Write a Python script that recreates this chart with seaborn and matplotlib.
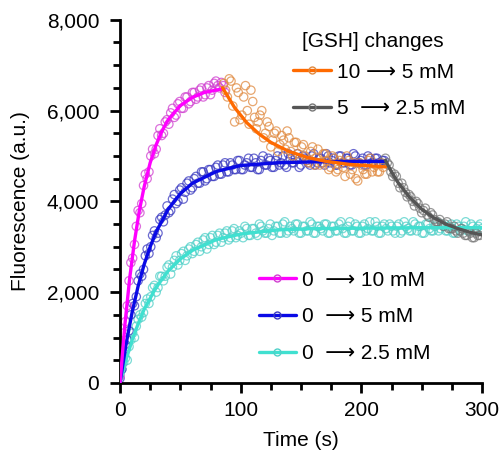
import matplotlib
matplotlib.use("Agg")
import matplotlib.pyplot as plt
from matplotlib.lines import Line2D
from matplotlib.ticker import MultipleLocator, FuncFormatter
import numpy as np
import seaborn as sns

sns.set_theme(style="white")
plt.rcParams["font.family"] = ["Liberation Sans", "DejaVu Sans"]
plt.rcParams.update({"text.color": "black", "axes.labelcolor": "black",
                     "xtick.color": "black", "ytick.color": "black"})

# ── data ──────────────────────────────────────────────────────────────────────
# raw measurements: two interleaved sets, each sampled every 3 s
mag_t = np.arange(0, 88, 3)
mag_y = [150, 1100, 1700, 2650, 3050, 3800, 3950, 4600, 4650, 5150,
         5150, 5600, 5500, 5800, 5950, 5850, 6150, 6050, 6300, 6150,
         6400, 6250, 6450, 6300, 6500, 6350, 6600, 6550, 6620, 6400]
mag_t2 = np.arange(1.5, 86, 3)
mag_y2 = [400, 1350, 2250, 2750, 3450, 3750, 4350, 4500, 5000, 5050,
          5450, 5450, 5750, 5700, 6050, 5900, 6200, 6050, 6300, 6200,
          6400, 6300, 6500, 6350, 6550, 6450, 6650, 6500, 6550]

blue_t = np.arange(0, 220, 3)
blue_y = [100, 600, 950, 1500, 1700, 2250, 2350, 2800, 2850, 3250,
          3200, 3600, 3550, 3900, 3800, 4150, 4000, 4300, 4200, 4450,
          4300, 4550, 4400, 4650, 4500, 4700, 4550, 4800, 4600, 4850,
          4650, 4800, 4700, 4900, 4700, 4850, 4750, 4950, 4700, 4900,
          4800, 4950, 4750, 4900, 4800, 5000, 4750, 4950, 4850, 5050,
          4800, 4950, 4850, 5000, 4800, 4950, 4850, 5050, 4850, 4950,
          4800, 5000, 4850, 4950, 4800, 5000, 4850, 4950, 4800, 4950,
          4850, 4950, 4850, 4900]
blue_t2 = np.arange(1.5, 218, 3)
blue_y2 = [300, 850, 1150, 1750, 1900, 2400, 2500, 2950, 3000, 3350,
           3300, 3650, 3700, 3750, 4050, 3950, 4250, 4050, 4400, 4250,
           4500, 4400, 4650, 4450, 4700, 4550, 4750, 4600, 4800, 4650,
           4850, 4700, 4900, 4700, 4800, 4950, 4750, 4850, 4700, 5000,
           4800, 4900, 4750, 5000, 4850, 4800, 5050, 4850, 4950, 4750,
           5000, 4900, 4800, 5050, 4850, 4950, 4800, 5000, 4900, 4800,
           5000, 4850, 4950, 4800, 5050, 4850, 4900, 4800, 5000, 4850,
           4950, 4850, 4900]

cyan_t = np.arange(0, 301, 3)
cyan_y = [200, 450, 500, 950, 1000, 1400, 1450, 1750, 1750, 2100,
          2000, 2350, 2250, 2550, 2400, 2700, 2600, 2850, 2700, 2950,
          2850, 3050, 2900, 3150, 2950, 3200, 3050, 3250, 3100, 3300,
          3150, 3350, 3200, 3350, 3200, 3400, 3250, 3400, 3250, 3450,
          3300, 3400, 3250, 3450, 3300, 3500, 3300, 3450, 3350, 3500,
          3300, 3450, 3350, 3500, 3300, 3450, 3350, 3500, 3300, 3450,
          3350, 3550, 3300, 3450, 3350, 3500, 3300, 3450, 3350, 3550,
          3350, 3450, 3300, 3500, 3350, 3450, 3300, 3500, 3350, 3450,
          3350, 3550, 3350, 3450, 3300, 3500, 3350, 3450, 3350, 3500,
          3350, 3450, 3300, 3500, 3350, 3450, 3350, 3500, 3350, 3450,
          3400]
cyan_t2 = np.arange(1.5, 300, 3)
cyan_y2 = [300, 550, 800, 1100, 1250, 1500, 1550, 1850, 1900, 2150,
           2100, 2350, 2350, 2600, 2550, 2800, 2700, 2900, 2800, 3000,
           2900, 3100, 3000, 3200, 3050, 3250, 3100, 3300, 3200, 3350,
           3200, 3400, 3250, 3300, 3450, 3250, 3400, 3300, 3500, 3350,
           3300, 3500, 3350, 3450, 3300, 3550, 3350, 3400, 3500, 3300,
           3450, 3350, 3550, 3300, 3450, 3400, 3500, 3300, 3450, 3350,
           3500, 3400, 3300, 3550, 3350, 3450, 3300, 3500, 3400, 3350,
           3550, 3300, 3450, 3400, 3500, 3350, 3450, 3300, 3550, 3400,
           3350, 3500, 3450, 3300, 3500, 3400, 3350, 3550, 3400, 3450,
           3350, 3500, 3300, 3450, 3400, 3550, 3350, 3450, 3400, 3500]

orange_t = np.arange(86, 219, 3)
orange_y = [6600, 6300, 6650, 5750, 6400, 5900, 6550, 5700, 6200, 5600,
            5900, 5400, 5750, 5200, 5500, 5100, 5450, 5150, 5400, 5000,
            5300, 4950, 5250, 4900, 5100, 4800, 5150, 4850, 5050, 4700,
            5000, 4650, 4900, 4750, 5000, 4600, 4850, 4450, 4800, 4600,
            4900, 4650, 4800, 4650, 4750]
orange_t2 = np.arange(87.5, 217, 3)
orange_y2 = [6450, 6700, 6100, 6500, 5800, 6300, 6000, 6450, 5850, 5750,
             6000, 5500, 5650, 5350, 5550, 5250, 5350, 5550, 5100, 5300,
             5050, 5200, 5000, 4850, 5200, 4950, 4800, 5050, 4900, 4750,
             4950, 4700, 4850, 4550, 4900, 4700, 4500, 4850, 4700, 4600,
             4950, 4750, 4650, 4850]

gray_t = np.arange(220, 300, 3)
gray_y = [4950, 4800, 4550, 4550, 4300, 4300, 4100, 4100, 3900, 3950,
          3750, 3850, 3650, 3700, 3550, 3600, 3450, 3550, 3400, 3450,
          3300, 3400, 3250, 3350, 3200, 3300, 3250]
gray_t2 = np.arange(221.5, 299, 3)
gray_y2 = [4850, 4650, 4600, 4400, 4400, 4200, 4150, 4000, 4000, 3850,
           3800, 3700, 3750, 3600, 3550, 3500, 3500, 3400, 3400, 3350,
           3350, 3300, 3250, 3300, 3200, 3250]

# fitted curves
mag_fit_t = [0, 4, 8, 12, 16, 20, 25, 30, 35, 40, 50, 60, 70, 85]
mag_fit_y = [0, 1270, 2300, 3120, 3790, 4320, 4850, 5250, 5560, 5800,
             6110, 6290, 6400, 6480]

blue_fit_t = [0, 5, 10, 15, 20, 25, 30, 40, 50, 60, 80, 100, 130, 160, 190, 220]
blue_fit_y = [0, 850, 1550, 2130, 2610, 3000, 3330, 3830, 4170, 4400,
              4660, 4790, 4850, 4870, 4880, 4880]

cyan_fit_t = [0, 5, 10, 15, 20, 30, 40, 50, 60, 80, 100, 130, 160, 200, 250, 300]
cyan_fit_y = [0, 510, 940, 1300, 1620, 2110, 2470, 2730, 2920, 3160,
              3280, 3370, 3400, 3410, 3420, 3420]

orange_fit_t = [85, 95, 105, 115, 125, 140, 155, 170, 190, 220]
orange_fit_y = [6500, 6065, 5735, 5490, 5300, 5100, 4970, 4885, 4815, 4760]

gray_fit_t = [220, 225, 230, 240, 250, 260, 270, 280, 290, 300]
gray_fit_y = [4900, 4650, 4430, 4090, 3830, 3640, 3500, 3400, 3320, 3260]

# ── colours ───────────────────────────────────────────────────────────────────
C_MAG, P_MAG = "#FF00FF", "#D040D0"
C_BLUE, P_BLUE = "#0A0AE6", "#3A3AC0"
C_CYAN, P_CYAN = "#40E0D0", "#50D0C8"
C_ORA, P_ORA = "#FF6A00", "#E08A40"
C_GRAY, P_GRAY = "#555555", "#777777"

FS = 15

fig = plt.figure(figsize=(5, 4.5), dpi=100)
ax = fig.add_axes([0.24, 0.149, 0.724, 0.807])

series = [
    (cyan_t, cyan_y, cyan_t2, cyan_y2, P_CYAN),
    (blue_t, blue_y, blue_t2, blue_y2, P_BLUE),
    (mag_t, mag_y, mag_t2, mag_y2, P_MAG),
    (orange_t, orange_y, orange_t2, orange_y2, P_ORA),
    (gray_t, gray_y, gray_t2, gray_y2, P_GRAY),
]
for t, y, t2, y2, c in series:
    for tt, yy in [(t, y), (t2, y2)]:
        sns.scatterplot(x=tt, y=yy, ax=ax, marker="o", s=36, color=c,
                        facecolor="none", edgecolor=c, linewidth=0.9,
                        alpha=0.75, zorder=2)

fits = [
    (cyan_fit_t, cyan_fit_y, C_CYAN),
    (blue_fit_t, blue_fit_y, C_BLUE),
    (mag_fit_t, mag_fit_y, C_MAG),
    (orange_fit_t, orange_fit_y, C_ORA),
    (gray_fit_t, gray_fit_y, C_GRAY),
]
for t, y, c in fits:
    sns.lineplot(x=t, y=y, ax=ax, color=c, linewidth=2.4, zorder=3)

# ── axes styling ──────────────────────────────────────────────────────────────
ax.set_xlim(0, 300)
ax.set_ylim(0, 8000)
ax.xaxis.set_major_locator(MultipleLocator(100))
ax.xaxis.set_minor_locator(MultipleLocator(25))
ax.yaxis.set_major_locator(MultipleLocator(2000))
ax.yaxis.set_minor_locator(MultipleLocator(500))
ax.yaxis.set_major_formatter(FuncFormatter(lambda v, p: f"{int(v):,}"))
for s in ["top", "right"]:
    ax.spines[s].set_visible(False)
for s in ["left", "bottom"]:
    ax.spines[s].set_linewidth(2)
    ax.spines[s].set_color("black")
ax.tick_params(which="major", direction="out", length=7, width=2,
               labelsize=FS, colors="black", left=True, bottom=True)
ax.tick_params(which="minor", direction="out", length=5, width=2,
               colors="black", left=True, bottom=True)
ax.tick_params(axis="x", which="major", pad=6)
ax.tick_params(axis="y", which="major", pad=8)
ax.set_xlabel("Time (s)", fontsize=FS, labelpad=8, color="black")
ax.set_ylabel("Fluorescence (a.u.)", fontsize=FS, labelpad=12, color="black")
ax.grid(False)


def handle(c, pc):
    return Line2D([0], [0], color=c, lw=2.4, marker="o", markersize=5,
                  markerfacecolor="none", markeredgecolor=pc)


ax.text(0.699, 0.939, "[GSH] changes", transform=ax.transAxes,
        ha="center", va="center", fontsize=FS, color="black")

leg1 = ax.legend(
    [handle(C_ORA, P_ORA), handle(C_GRAY, P_GRAY)],
    ["10 \u27f6 5 mM", "5  \u27f6 2.5 mM"],
    loc="upper left", bbox_to_anchor=(0.455, 0.905),
    frameon=False, fontsize=FS, handlelength=1.8,
    handletextpad=0.3, labelspacing=0.85, borderaxespad=0)
for txt in leg1.get_texts():
    txt.set_color("black")
ax.add_artist(leg1)

leg2 = ax.legend(
    [handle(C_MAG, P_MAG), handle(C_BLUE, P_BLUE), handle(C_CYAN, P_CYAN)],
    ["0  \u27f6 10 mM", "0  \u27f6 5 mM", "0  \u27f6 2.5 mM"],
    loc="upper left", bbox_to_anchor=(0.36, 0.332),
    frameon=False, fontsize=FS, handlelength=1.8,
    handletextpad=0.3, labelspacing=0.85, borderaxespad=0)
for txt in leg2.get_texts():
    txt.set_color("black")

fig.savefig("out.png", dpi=100)
